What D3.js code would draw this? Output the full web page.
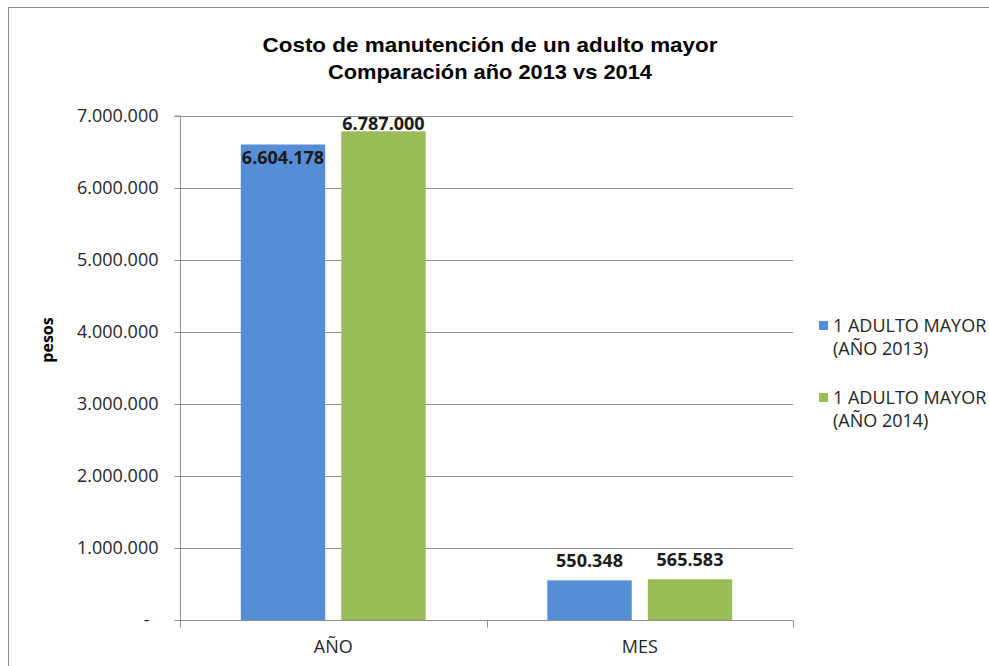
<!DOCTYPE html>
<html>
<head>
<meta charset="utf-8">
<script src="https://cdn.jsdelivr.net/npm/d3@7"></script>
<style>
  html, body { margin: 0; padding: 0; background: #fff; }
  svg { display: block; }
</style>
</head>
<body>
<svg id="chart" width="989" height="666"></svg>
<script>
const categories = ["AÑO", "MES"];
const seriesNames = ["1 ADULTO MAYOR (AÑO 2013)", "1 ADULTO MAYOR (AÑO 2014)"];
const legendLines = [["1 ADULTO MAYOR", "(AÑO 2013)"], ["1 ADULTO MAYOR", "(AÑO 2014)"]];
const values2013 = [6604178, 550348];
const values2014 = [6787000, 565583];
const yTicks = [0, 1000000, 2000000, 3000000, 4000000, 5000000, 6000000, 7000000];
const titleLines = ["Costo  de manutención de un adulto mayor", "Comparación año 2013 vs 2014"];
const yAxisTitle = "pesos";
const colors = ["#558ed5", "#9bbb59"];

const svg = d3.select("#chart");
const W = 989, H = 666;
const m = { left: 180, right: 793, top: 116, bottom: 620 };
const axisFont = "'Open Sans', 'Noto Sans', sans-serif";
const fs = 18;

// outer frame
svg.append("rect").attr("x", 8.5).attr("y", 7.5).attr("width", W).attr("height", H)
  .attr("fill", "none").attr("stroke", "#8c8c8c").attr("stroke-width", 1);

const fmt = d3.formatLocale({ decimal: ",", thousands: ".", grouping: [3], currency: ["$", ""] }).format(",d");

const y = d3.scaleLinear().domain([0, 7000000]).range([m.bottom, m.top]);
const x0 = d3.scaleBand().domain(categories).range([m.left, m.right]).paddingInner(0).paddingOuter(0);
const x1 = d3.scaleBand().domain(seriesNames).range([0, x0.bandwidth()]).paddingInner(0.16).paddingOuter(0.605);

// gridlines
svg.append("g").selectAll("line").data(yTicks.filter(d => d > 0)).join("line")
  .attr("x1", m.left).attr("x2", m.right)
  .attr("y1", d => Math.round(y(d)) + 0.5).attr("y2", d => Math.round(y(d)) + 0.5)
  .attr("stroke", "#8c8c8c").attr("stroke-width", 1);

// y axis
const yAxis = d3.axisLeft(y).tickValues(yTicks).tickSize(6).tickPadding(16)
  .tickFormat(d => d === 0 ? "-" : fmt(d));
const gy = svg.append("g").attr("transform", `translate(${m.left + 0.5},0)`).call(yAxis);
gy.select(".domain").attr("stroke", "#8c8c8c").attr("d", `M-6,${y(7000000)}H0V${m.bottom}`);
gy.selectAll(".tick line").attr("stroke", "#8c8c8c");
gy.selectAll(".tick text").attr("font-family", axisFont).attr("font-size", fs).attr("fill", "#262626")
  .attr("dx", d => d === 0 ? -9 : 0);
gy.selectAll(".tick").attr("transform", d => `translate(0,${Math.round(y(d)) + 0.5})`);

// bars
const data = categories.map((c, i) => ({ cat: c, vals: [values2013[i], values2014[i]] }));
const groups = svg.append("g").selectAll("g").data(data).join("g")
  .attr("transform", d => `translate(${x0(d.cat)},0)`);
groups.selectAll("rect").data(d => d.vals.map((v, j) => ({ v, s: seriesNames[j], j }))).join("rect")
  .attr("x", d => x1(d.s)).attr("width", x1.bandwidth())
  .attr("y", d => y(d.v)).attr("height", d => y(0) - y(d.v))
  .attr("fill", d => colors[d.j]);

// x axis
const xAxisG = svg.append("g").attr("transform", `translate(0,${m.bottom + 0.5})`);
xAxisG.append("line").attr("x1", m.left).attr("x2", m.right).attr("stroke", "#8c8c8c");
const bounds = [m.left, ...categories.map(c => x0(c) + x0.bandwidth())];
xAxisG.selectAll("line.tk").data(bounds).join("line").attr("class", "tk")
  .attr("x1", d => Math.round(d) + 0.5).attr("x2", d => Math.round(d) + 0.5).attr("y1", 0).attr("y2", 7)
  .attr("stroke", "#8c8c8c");
xAxisG.selectAll("text").data(categories).join("text")
  .attr("x", d => x0(d) + x0.bandwidth() / 2).attr("y", 32)
  .attr("text-anchor", "middle").attr("font-family", axisFont).attr("font-size", fs).attr("fill", "#262626")
  .text(d => d);

// data labels (outside end, clamped to plot top; a clamped label pushes its neighbour inside the bar)
const labelFont = "'Open Sans', 'Noto Sans', sans-serif";
data.forEach(d => {
  const tops = d.vals.map(v => y(v));
  const pos = tops.map(t => t - 20);
  const clamped = pos.map(p => p < m.top + 8);
  if (clamped.some(c => c)) {
    const jMax = tops[0] < tops[1] ? 0 : 1;
    const other = 1 - jMax;
    pos[jMax] = m.top + 8;
    pos[other] = tops[other] + 13;
  }
  d.vals.forEach((v, j) => {
    svg.append("text")
      .attr("x", x0(d.cat) + x1(seriesNames[j]) + x1.bandwidth() / 2)
      .attr("y", pos[j]).attr("dy", "0.35em")
      .attr("text-anchor", "middle").attr("font-family", labelFont).attr("font-weight", "bold")
      .attr("font-size", fs).attr("fill", "#1a1a1a")
      .text(fmt(v));
  });
});

// title
svg.append("g").selectAll("text").data(titleLines).join("text")
  .attr("x", 490).attr("y", (d, i) => 45 + i * 27).attr("dy", "0.35em")
  .attr("text-anchor", "middle").attr("font-family", "'Liberation Sans', Arial, sans-serif")
  .attr("font-weight", "bold").attr("font-size", 21).attr("fill", "#000")
  .attr("textLength", (d, i) => i === 0 ? 455 : 324)
  .attr("lengthAdjust", "spacingAndGlyphs")
  .text(d => d);

// y axis title
svg.append("text").attr("transform", "translate(47,340) rotate(-90)").attr("dy", "0.35em")
  .attr("text-anchor", "middle").attr("font-family", "'Open Sans', 'Noto Sans', sans-serif")
  .attr("font-weight", "bold").attr("font-size", 16).attr("fill", "#000").text(yAxisTitle);

// legend
const leg = svg.append("g").selectAll("g").data(seriesNames).join("g")
  .attr("transform", (d, i) => `translate(819,${326 + i * 72})`);
leg.append("rect").attr("x", 0).attr("y", -5).attr("width", 9).attr("height", 9).attr("fill", (d, i) => colors[i]);
leg.each(function(d, i) {
  d3.select(this).selectAll("text").data(legendLines[i]).join("text")
    .attr("x", 14).attr("y", (t, k) => k * 23).attr("dy", "0.35em")
    .attr("font-family", axisFont).attr("font-size", fs).attr("fill", "#262626")
    .text(t => t);
});
</script>
</body>
</html>
